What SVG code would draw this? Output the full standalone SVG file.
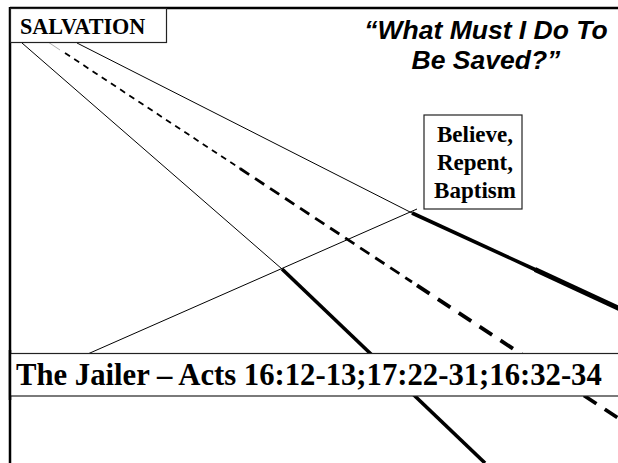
<svg xmlns="http://www.w3.org/2000/svg" width="618" height="463" viewBox="0 0 618 463">
<style>
.thin{stroke:#000;stroke-width:1;fill:none}
.thick{stroke:#000;stroke-width:3.6;fill:none}
.thicker{stroke:#000;stroke-width:5;fill:none}
.box{fill:#fff;stroke:#222;stroke-width:1.2}
.serif{font-family:"Liberation Serif","Times New Roman",serif;font-weight:bold;fill:#000}
.sans{font-family:"Liberation Sans",Arial,sans-serif;font-weight:bold;font-style:italic;fill:#000}
</style>
<rect width="618" height="463" fill="#fff"/>
<g id="connectors">
  <!-- line A -->
  <line class="thin" x1="22" y1="43" x2="282" y2="269"/>
  <line class="thick" x1="282" y1="269" x2="485" y2="463"/>
  <!-- line C -->
  <line class="thin" x1="77" y1="43" x2="412" y2="213"/>
  <line class="thick" x1="412" y1="213" x2="536" y2="270"/>
  <line class="thicker" x1="535" y1="269.5" x2="620" y2="309"/>
  <!-- line D -->
  <line class="thin" x1="40" y1="375" x2="417" y2="209"/>
  <!-- line B dashed -->
  <line x1="48" y1="42" x2="60" y2="50" stroke="#999" stroke-width="0.8"/>
  <line x1="65" y1="53" x2="240" y2="168.5" stroke="#000" stroke-width="1.8" stroke-dasharray="6 5"/>
  <line x1="240" y1="168.5" x2="412" y2="282" stroke="#000" stroke-width="2.8" stroke-dasharray="11 7"/>
  <line x1="417" y1="285.3" x2="620" y2="419.3" stroke="#000" stroke-width="3.8" stroke-dasharray="15 10"/>
</g>
<g id="frame">
  <line x1="10" y1="8" x2="618" y2="8" stroke="#000" stroke-width="2.5"/>
  <line x1="10" y1="7" x2="10" y2="463" stroke="#000" stroke-width="2.5"/>
</g>
<g id="salvation">
  <rect class="box" x="10.5" y="8.5" width="156" height="34"/>
  <text class="serif" x="20" y="34" font-size="22.2">SALVATION</text>
</g>
<g id="title">
  <text class="sans" font-size="26.5" text-anchor="middle"><tspan x="486" y="39">“What Must I Do To</tspan><tspan x="486" y="69">Be Saved?”</tspan></text>
</g>
<g id="believe">
  <rect class="box" x="424" y="115" width="98" height="94"/>
  <text class="serif" font-size="23" text-anchor="middle"><tspan x="475" y="142">Believe,</tspan><tspan x="475" y="170">Repent,</tspan><tspan x="475" y="198">Baptism</tspan></text>
</g>
<g id="jailer">
  <rect class="box" x="10" y="353.5" width="612" height="42.5"/>
  <line x1="10" y1="350" x2="10" y2="400" stroke="#000" stroke-width="2.5"/>
  <text class="serif" x="16" y="385" font-size="30.7">The Jailer – Acts 16:12-13;17:22-31;16:32-34</text>
</g>
</svg>
